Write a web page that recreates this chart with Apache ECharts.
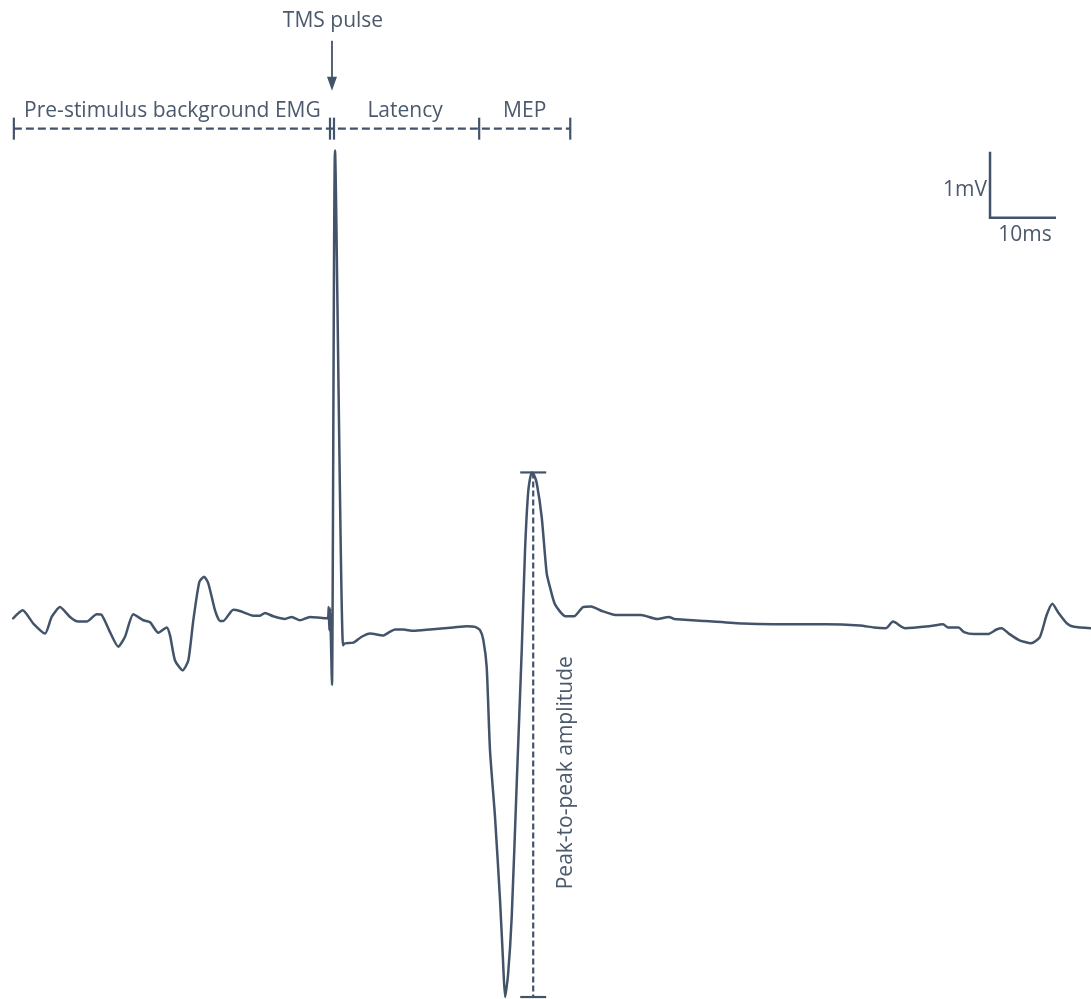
<!DOCTYPE html>
<html>
<head>
<meta charset="utf-8">
<title>TMS-evoked MEP</title>
<script src="https://cdn.jsdelivr.net/npm/echarts@6/dist/echarts.min.js"></script>
<style>
  html, body { margin: 0; padding: 0; background: #ffffff; }
  #chart { width: 1091px; height: 999px; }
</style>
</head>
<body>
<div id="chart"></div>
<script>
// EMG sweep around a single TMS pulse (time in ms relative to the pulse, amplitude in mV)
const timeMs = [
  -48.0, -46.56, -44.95, -43.18, -42.17, -40.91, -39.39, -38.18, -36.86, -35.35,
  -34.59, -33.33, -32.08, -31.06, -29.80, -28.29, -27.27, -26.02, -24.74, -24.24,
  -23.48, -22.32, -21.47, -20.71, -19.80, -19.09, -18.44, -17.42, -16.67, -16.17,
  -14.65, -13.64, -11.62, -10.61, -9.85, -8.59, -6.82, -5.80, -4.55, -3.03,
  -0.76, -0.3, -0.2, -0.1, 0.0, 0.1, 0.3, 0.76, 1.97, 2.27,
  3.53, 4.80, 6.06, 8.08, 8.83, 9.85, 11.11, 12.62, 15.15, 18.68,
  20.71, 21.97, 22.73, 23.23, 23.74, 24.24, 25.0, 25.76, 26.21, 26.52,
  26.97, 27.53, 28.29, 29.05, 29.55, 30.05, 30.56, 30.91, 31.32, 32.08,
  32.83, 33.33, 34.09, 35.68, 36.97, 38.33, 39.55, 41.21, 43.26, 47.12,
  49.55, 51.36, 52.12, 56.82, 62.58, 67.27, 75.15, 80.30, 82.42, 84.24,
  85.30, 87.12, 90.76, 92.88, 93.64, 95.24, 96.06, 97.58, 99.70, 100.98,
  101.77, 102.82, 104.39, 106.21, 107.53, 108.58, 109.45, 110.39, 111.67, 112.73,
  115.3
];
const amplitudeMv = [
  0.03, 0.15, -0.05, -0.20, 0.05, 0.20, 0.05, -0.02, -0.02, 0.09,
  0.08, -0.18, -0.40, -0.25, 0.09, 0.0, -0.03, -0.19, -0.11, -0.23,
  -0.61, -0.76, -0.61, 0.0, 0.58, 0.66, 0.56, 0.15, -0.01, -0.01,
  0.16, 0.14, 0.07, 0.07, 0.11, 0.06, 0.02, 0.05, 0.0, 0.05,
  0.03, 0.04, 0.2, -0.15, 0.18, -0.12, -0.98, 7.12, -0.38, -0.35,
  -0.34, -0.25, -0.20, -0.23, -0.19, -0.14, -0.14, -0.16, -0.14, -0.11,
  -0.09, -0.10, -0.15, -0.30, -0.71, -1.97, -2.98, -4.24, -5.15, -5.71,
  -5.38, -4.50, -2.47, -0.45, 1.06, 1.97, 2.24, 2.20, 2.08, 1.56,
  0.71, 0.50, 0.24, 0.06, 0.06, 0.20, 0.21, 0.14, 0.08, 0.08,
  0.02, 0.05, 0.02, -0.01, -0.05, -0.06, -0.06, -0.08, -0.11, -0.12,
  -0.02, -0.12, -0.09, -0.06, -0.11, -0.11, -0.18, -0.21, -0.21, -0.14,
  -0.12, -0.20, -0.30, -0.35, -0.26, 0.08, 0.25, 0.11, -0.05, -0.10,
  -0.12
];

// Epochs marked above the trace
const phaseLabels = ['Pre-stimulus background EMG', 'Latency', 'MEP'];
const phaseBoundsMs = [-47.9, 0.15, 22.6, 36.4];
const pulseTimeMs = 0.3;
const pulseLabel = 'TMS pulse';
const bracketLevelMv = 7.45;

// Calibration bar
const scaleBarOrigin = [100, 6.1];   // [ms, mV]
const scaleBarMs = 10;
const scaleBarMv = 1;
const scaleBarLabels = ['1mV', '10ms'];
const amplitudeLabel = 'Peak-to-peak amplitude';

const INK = '#43536a';
const TEXT = '#4b596d';
const FONT = '21px "Open Sans", "Liberation Sans", sans-serif';

const chart = echarts.init(document.getElementById('chart'), null, { renderer: 'canvas' });

chart.setOption({
  animation: false,
  backgroundColor: '#ffffff',
  grid: { left: 0, right: 0, top: 0, bottom: 0 },
  xAxis: { type: 'value', min: -50, max: 115.3, show: false },
  yAxis: { type: 'value', min: -5.74, max: 9.4, show: false },
  series: [{
    type: 'line',
    data: timeMs.map((t, i) => [t, amplitudeMv[i]]),
    showSymbol: false,
    smooth: 0.2,
    lineStyle: { color: INK, width: 2.5, join: 'round', cap: 'round' },
    silent: true
  }]
});

const toPx = (t, v) => chart.convertToPixel({ gridIndex: 0 }, [t, v]);

function seg(a, b, opts) {
  return {
    type: 'line',
    shape: { x1: a[0], y1: a[1], x2: b[0], y2: b[1] },
    style: Object.assign({ stroke: INK, lineWidth: 2.2 }, opts || {}),
    silent: true
  };
}
function label(text, x, y, align) {
  return {
    type: 'text',
    style: {
      text: text, x: x, y: y, font: FONT, fill: TEXT,
      textAlign: align || 'center', textVerticalAlign: 'middle', verticalAlign: 'middle'
    },
    silent: true
  };
}

const shapes = [];

// Epoch bracket
const bracketL = toPx(phaseBoundsMs[0], bracketLevelMv);
const bracketR = toPx(phaseBoundsMs[3], bracketLevelMv);
shapes.push(seg(bracketL, bracketR, { lineDash: [8, 4] }));
phaseBoundsMs.forEach((t, i) => {
  const p = toPx(t, bracketLevelMv);
  const offsets = (i === 1) ? [-1, 3] : [0];
  offsets.forEach(o => shapes.push(seg([p[0] + o, p[1] - 11], [p[0] + o, p[1] + 11])));
});
phaseLabels.forEach((name, i) => {
  const a = toPx(phaseBoundsMs[i], bracketLevelMv);
  const b = toPx(phaseBoundsMs[i + 1], bracketLevelMv);
  shapes.push(label(name, (a[0] + b[0]) / 2, a[1] - 18));
});

// Pulse arrow
const pulsePx = toPx(pulseTimeMs, bracketLevelMv);
const tipY = pulsePx[1] - 38;
shapes.push(seg([pulsePx[0], tipY - 50], [pulsePx[0], tipY - 10], { lineWidth: 1.8 }));
shapes.push({
  type: 'polygon',
  shape: { points: [[pulsePx[0] - 5, tipY - 14], [pulsePx[0] + 5, tipY - 14], [pulsePx[0], tipY]] },
  style: { fill: INK },
  silent: true
});
shapes.push(label(pulseLabel, pulsePx[0] + 1, tipY - 70));

// Calibration bar
const calCorner = toPx(scaleBarOrigin[0], scaleBarOrigin[1]);
const calTop = toPx(scaleBarOrigin[0], scaleBarOrigin[1] + scaleBarMv);
const calRight = toPx(scaleBarOrigin[0] + scaleBarMs, scaleBarOrigin[1]);
shapes.push({
  type: 'polyline',
  shape: { points: [calTop, calCorner, calRight] },
  style: { stroke: INK, lineWidth: 2.5, fill: null },
  silent: true
});
shapes.push(label(scaleBarLabels[0], calCorner[0] - 3, (calCorner[1] + calTop[1]) / 2 + 5, 'right'));
shapes.push(label(scaleBarLabels[1], (calCorner[0] + calRight[0]) / 2 + 2, calCorner[1] + 17));

// Peak-to-peak amplitude within the MEP window
let iMax = -1, iMin = -1;
timeMs.forEach((t, i) => {
  if (t < phaseBoundsMs[2] || t > phaseBoundsMs[3]) return;
  if (iMax < 0 || amplitudeMv[i] > amplitudeMv[iMax]) iMax = i;
  if (iMin < 0 || amplitudeMv[i] < amplitudeMv[iMin]) iMin = i;
});
const peakPx = toPx(timeMs[iMax], amplitudeMv[iMax]);
const troughPx = toPx(timeMs[iMax], amplitudeMv[iMin]);
const lx = peakPx[0] + 1.5;
shapes.push(seg([lx, peakPx[1]], [lx, troughPx[1]], { lineDash: [6, 3] }));
shapes.push(seg([lx - 13, peakPx[1]], [lx + 13, peakPx[1]]));
shapes.push(seg([lx - 13, troughPx[1]], [lx + 13, troughPx[1]]));
shapes.push({
  type: 'text',
  x: lx + 33,
  y: (peakPx[1] + troughPx[1]) / 2 + 38,
  rotation: Math.PI / 2,
  style: {
    text: amplitudeLabel, x: 0, y: 0, font: FONT, fill: TEXT,
    textAlign: 'center', textVerticalAlign: 'middle', verticalAlign: 'middle'
  },
  silent: true
});

chart.setOption({ graphic: shapes });
</script>
</body>
</html>
